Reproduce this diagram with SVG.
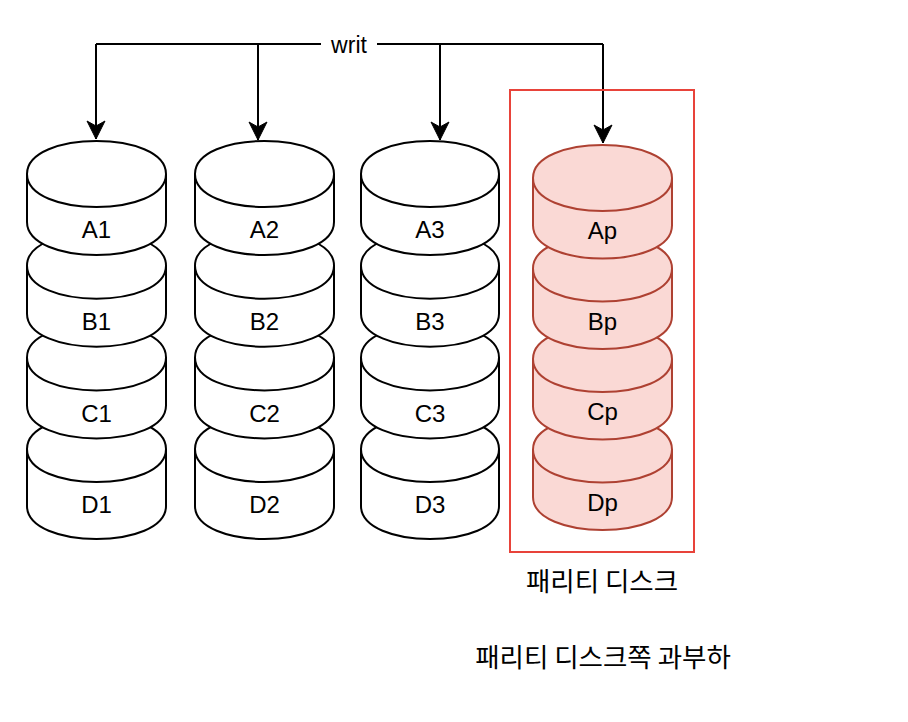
<svg xmlns="http://www.w3.org/2000/svg" width="908" height="722" viewBox="0 0 908 722">
<style>
.cyl{fill:#ffffff;stroke:#000000;stroke-width:2}
.par{fill:#fad9d5;stroke:#ae4132;stroke-width:2}
.arc{fill:none;stroke:#000000;stroke-width:2}
.parc{fill:none;stroke:#ae4132;stroke-width:2}
.lbl{font-family:"Liberation Sans",Arial,sans-serif;font-size:24px;fill:#000;text-anchor:middle}
.kr{font-family:"Noto Sans CJK KR","Noto Sans",sans-serif;font-size:26.5px;fill:#000;text-anchor:middle}
.edge{fill:none;stroke:#000;stroke-width:2}
</style>
<defs>
<marker id="arr" markerUnits="userSpaceOnUse" markerWidth="20" markerHeight="20" viewBox="-19 -10 20 20" refX="0" refY="0" orient="auto">
<path d="M0,0 L-18,-9 L-13,0 L-18,9 Z" fill="#000" stroke="#000" stroke-width="1"/>
</marker>
</defs>
<rect width="908" height="722" fill="#ffffff"/>
<g id="edges">
<path class="edge" d="M96,44 L603,44"/>
<path class="edge" d="M96,44 L96,139" marker-end="url(#arr)"/>
<path class="edge" d="M258,44 L258,140" marker-end="url(#arr)"/>
<path class="edge" d="M440,44 L440,140" marker-end="url(#arr)"/>
<path class="edge" d="M603,44 L603,143" marker-end="url(#arr)"/>
<rect x="321" y="32" width="56" height="24" fill="#ffffff"/>
<text x="349" y="52.5" style="font-family:'Liberation Sans',Arial,sans-serif;font-size:23px;text-anchor:middle">writ</text>
</g>
<g id="parity-box">
<rect x="510" y="90" width="184" height="462" fill="none" stroke="#e8433a" stroke-width="2"/>
</g>
<!-- column 1 -->
<g id="D1"><path class="cyl" d="M27,449 C27,405 166,405 166,449 L166,506 C166,550 27,550 27,506 Z"/><path class="arc" d="M27,449 C27,493 166,493 166,449"/><text class="lbl" x="96.5" y="513">D1</text></g>
<g id="C1"><path class="cyl" d="M27,357.4 C27,313.4 166,313.4 166,357.4 L166,405.4 C166,449.4 27,449.4 27,405.4 Z"/><path class="arc" d="M27,357.4 C27,401.4 166,401.4 166,357.4"/><text class="lbl" x="96.5" y="421.5">C1</text></g>
<g id="B1"><path class="cyl" d="M27,265.7 C27,221.7 166,221.7 166,265.7 L166,313.7 C166,357.7 27,357.7 27,313.7 Z"/><path class="arc" d="M27,265.7 C27,309.7 166,309.7 166,265.7"/><text class="lbl" x="96.5" y="330">B1</text></g>
<g id="A1"><path class="cyl" d="M27,174 C27,130 166,130 166,174 L166,222 C166,266 27,266 27,222 Z"/><path class="arc" d="M27,174 C27,218 166,218 166,174"/><text class="lbl" x="96.5" y="238">A1</text></g>
<!-- column 2 -->
<g id="D2"><path class="cyl" d="M195,449 C195,405 334,405 334,449 L334,506 C334,550 195,550 195,506 Z"/><path class="arc" d="M195,449 C195,493 334,493 334,449"/><text class="lbl" x="264.5" y="513">D2</text></g>
<g id="C2"><path class="cyl" d="M195,357.4 C195,313.4 334,313.4 334,357.4 L334,405.4 C334,449.4 195,449.4 195,405.4 Z"/><path class="arc" d="M195,357.4 C195,401.4 334,401.4 334,357.4"/><text class="lbl" x="264.5" y="421.5">C2</text></g>
<g id="B2"><path class="cyl" d="M195,265.7 C195,221.7 334,221.7 334,265.7 L334,313.7 C334,357.7 195,357.7 195,313.7 Z"/><path class="arc" d="M195,265.7 C195,309.7 334,309.7 334,265.7"/><text class="lbl" x="264.5" y="330">B2</text></g>
<g id="A2"><path class="cyl" d="M195,174 C195,130 334,130 334,174 L334,222 C334,266 195,266 195,222 Z"/><path class="arc" d="M195,174 C195,218 334,218 334,174"/><text class="lbl" x="264.5" y="238">A2</text></g>
<!-- column 3 -->
<g id="D3"><path class="cyl" d="M361,449 C361,405 499,405 499,449 L499,506 C499,550 361,550 361,506 Z"/><path class="arc" d="M361,449 C361,493 499,493 499,449"/><text class="lbl" x="430" y="513">D3</text></g>
<g id="C3"><path class="cyl" d="M361,357.4 C361,313.4 499,313.4 499,357.4 L499,405.4 C499,449.4 361,449.4 361,405.4 Z"/><path class="arc" d="M361,357.4 C361,401.4 499,401.4 499,357.4"/><text class="lbl" x="430" y="421.5">C3</text></g>
<g id="B3"><path class="cyl" d="M361,265.7 C361,221.7 499,221.7 499,265.7 L499,313.7 C499,357.7 361,357.7 361,313.7 Z"/><path class="arc" d="M361,265.7 C361,309.7 499,309.7 499,265.7"/><text class="lbl" x="430" y="330">B3</text></g>
<g id="A3"><path class="cyl" d="M361,174 C361,130 499,130 499,174 L499,222 C499,266 361,266 361,222 Z"/><path class="arc" d="M361,174 C361,218 499,218 499,174"/><text class="lbl" x="430" y="238">A3</text></g>
<!-- parity column -->
<g id="Dp"><path class="par" d="M533,449.5 C533,405.5 672,405.5 672,449.5 L672,497 C672,541 533,541 533,497 Z"/><path class="parc" d="M533,449.5 C533,493.5 672,493.5 672,449.5"/><text class="lbl" x="602.5" y="510.5">Dp</text></g>
<g id="Cp"><path class="par" d="M533,359 C533,315 672,315 672,359 L672,406.5 C672,450.5 533,450.5 533,406.5 Z"/><path class="parc" d="M533,359 C533,403 672,403 672,359"/><text class="lbl" x="602.5" y="420">Cp</text></g>
<g id="Bp"><path class="par" d="M533,268.5 C533,224.5 672,224.5 672,268.5 L672,316 C672,360 533,360 533,316 Z"/><path class="parc" d="M533,268.5 C533,312.5 672,312.5 672,268.5"/><text class="lbl" x="602.5" y="329.5">Bp</text></g>
<g id="Ap"><path class="par" d="M533,178 C533,134 672,134 672,178 L672,225.5 C672,269.5 533,269.5 533,225.5 Z"/><path class="parc" d="M533,178 C533,222 672,222 672,178"/><text class="lbl" x="602.5" y="239">Ap</text></g>
<g id="label-parity"><text class="kr" x="602" y="591">패리티 디스크</text></g>
<g id="label-overload"><text class="kr" x="603" y="667">패리티 디스크쪽 과부하</text></g>
</svg>
